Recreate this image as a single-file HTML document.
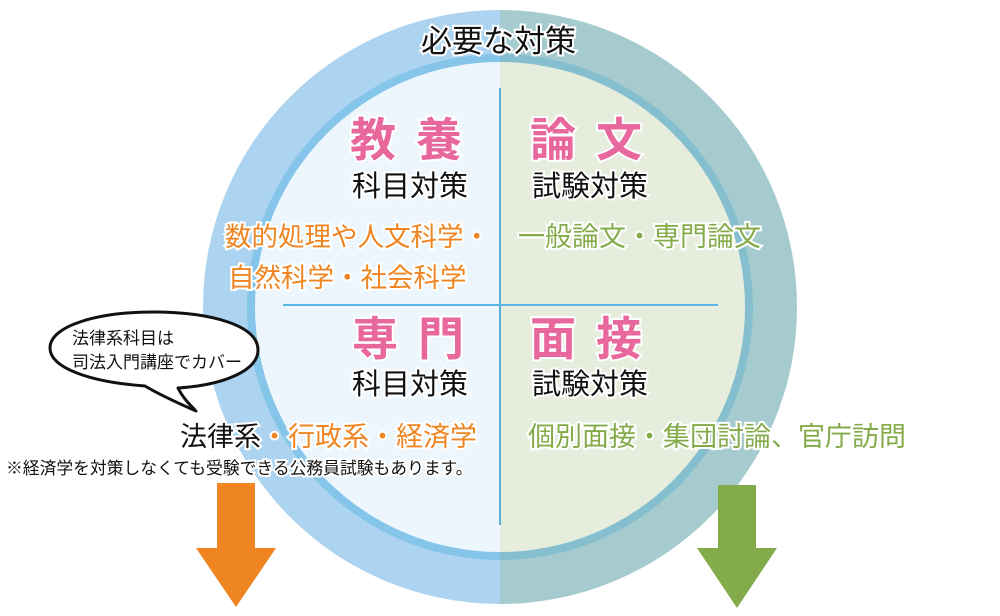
<!DOCTYPE html>
<html><head><meta charset="utf-8"><style>
body{margin:0;width:1000px;height:611px;background:#fff;overflow:hidden}
svg text{font-family:"Liberation Sans","Noto Sans CJK JP",sans-serif}
</style></head><body>
<svg width="1000" height="611" viewBox="0 0 1000 611">
<defs>
<clipPath id="L"><rect x="0" y="0" width="500" height="611"/></clipPath>
<clipPath id="R"><rect x="500" y="0" width="500" height="611"/></clipPath>
</defs>
<circle cx="500" cy="307" r="297" fill="#acd4f0" clip-path="url(#L)"/>
<circle cx="500" cy="307" r="297" fill="#a5cbcf" clip-path="url(#R)"/>
<circle cx="500" cy="307" r="253" fill="#86c5ea" clip-path="url(#L)"/>
<circle cx="500" cy="307" r="253" fill="#85bfcf" clip-path="url(#R)"/>
<circle cx="500" cy="307" r="245" fill="#eef6fd" clip-path="url(#L)"/>
<circle cx="500" cy="307" r="245" fill="#e6eddc" clip-path="url(#R)"/>
<line x1="500" y1="88" x2="500" y2="525" stroke="#2a9ad8" stroke-width="1.5"/>
<line x1="283" y1="305" x2="718" y2="305" stroke="#5bb6e6" stroke-width="2"/>
<polygon points="217,483 255,483 255,548 276,548 236,607 196,548 217,548" fill="#ef8522"/>
<polygon points="718,485 756,485 756,548 777,548 737,608 697,548 718,548" fill="#84ab4a"/>
<g stroke="#fff" stroke-width="4" paint-order="stroke">
<text x="421" y="52" font-size="31" fill="#111">必要な対策</text>
<text x="350" y="156" font-size="46" font-weight="bold" fill="#e8679d" letter-spacing="20">教養</text>
<text x="530" y="156" font-size="46" font-weight="bold" fill="#e8679d" letter-spacing="20">論文</text>
<text x="352" y="196" font-size="29" fill="#111">科目対策</text>
<text x="532" y="196" font-size="29" fill="#111">試験対策</text>
<text x="225" y="246" font-size="26.5" fill="#ef8522">数的処理や人文科学・</text>
<text x="228" y="287" font-size="26.5" fill="#ef8522">自然科学・社会科学</text>
<text x="518" y="246" font-size="27" fill="#84ab4a">一般論文・専門論文</text>
<text x="352" y="355" font-size="46" font-weight="bold" fill="#e8679d" letter-spacing="20">専門</text>
<text x="530" y="355" font-size="46" font-weight="bold" fill="#e8679d" letter-spacing="20">面接</text>
<text x="352" y="394" font-size="29" fill="#111">科目対策</text>
<text x="532" y="394" font-size="29" fill="#111">試験対策</text>
<text x="180" y="446" font-size="27"><tspan fill="#111">法律系</tspan><tspan fill="#ef8522">・行政系・経済学</tspan></text>
<text x="528" y="446" font-size="27" fill="#84ab4a">個別面接・集団討論、官庁訪問</text>
<text x="6" y="474" font-size="16.8" fill="#111">※経済学を対策しなくても受験できる公務員試験もあります。</text>
</g>
<path d="M145,386 C90,382 50,368 50,348 C50,325 100,312 153,312 C210,312 258,325 258,350 C258,370 225,385 178,388 C183,398 190,405 196,411 C180,404 160,395 145,386 Z" fill="#fff" stroke="#111" stroke-width="3" stroke-linejoin="round"/>
<text x="72" y="344" font-size="17" fill="#111">法律系科目は</text>
<text x="72" y="368" font-size="17" fill="#111">司法入門講座でカバー</text>
</svg>
</body></html>
